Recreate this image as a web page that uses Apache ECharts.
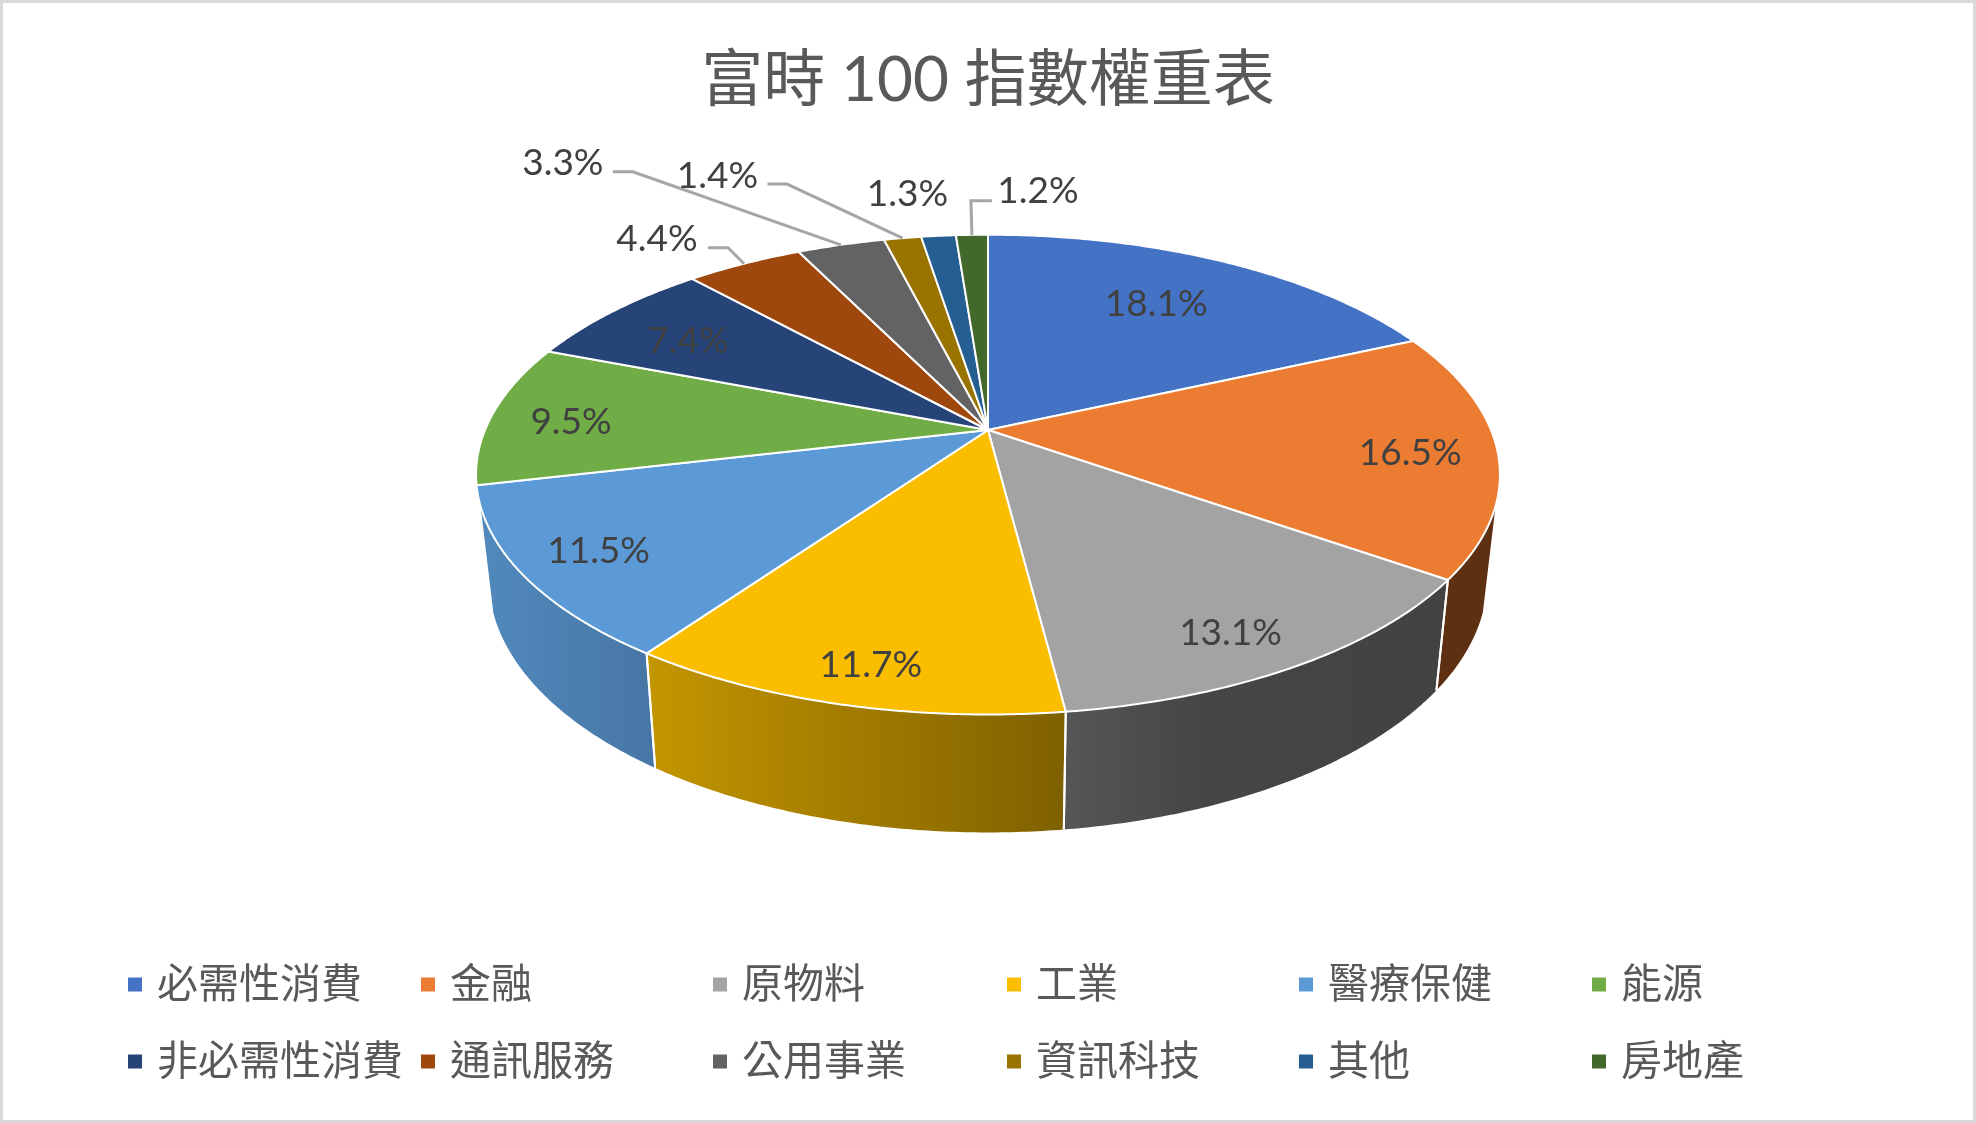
<!DOCTYPE html>
<html>
<head>
<meta charset="utf-8">
<script src="https://cdn.jsdelivr.net/npm/echarts@6/dist/echarts.min.js"></script>
<style>html,body{margin:0;padding:0;background:#fff}#c{width:1976px;height:1123px}</style>
</head>
<body>
<div id="c"></div>
<script>
const titleText = '富時 100 指數權重表';
const categories = ['必需性消費','金融','原物料','工業','醫療保健','能源','非必需性消費','通訊服務','公用事業','資訊科技','其他','房地產'];
const weights = [18.1,16.5,13.1,11.7,11.5,9.5,7.4,4.4,3.3,1.4,1.3,1.2];
const colors = ['#4472C4','#EB7C31','#A3A3A3','#FBBD00','#5B9AD6','#70AD47','#264478','#9E480E','#636363','#997300','#255E91','#43682B'];

// Perspective disc model (layout only)
const CX = 988, CY = 430, A = 503, B = 231.6, K = 0.186;
const DROP = 102, BOTTOM_A = 0.975, BOTTOM_B = 1.056;
const SIDE_FROM = 108, SIDE_TO = 251.8;
const INSIDE_R = 0.72;
const sideFill = {
  1: [['#5e2f11', 0], ['#5e2f11', 1]],
  2: [['#565656', 0], ['#464646', 0.35], ['#424242', 1]],
  3: [['#c49600', 0], ['#7f6000', 1]],
  4: [['#5189bc', 0], ['#4776a6', 1]]
};
// label layout: [radius fraction, dx, dy]; leader: elbow / end offsets from the slice's outer midpoint
const labelLayout = [
  [INSIDE_R,-8,0],[INSIDE_R,57,7],[INSIDE_R,32,42],[INSIDE_R,-17,49],[INSIDE_R,-65,20],[INSIDE_R,-59,4],[INSIDE_R,-23,-1],
  [1,-87,-25],[1,-278,-82],[1,-185,-62],[1,-31,-42],[1,66,-44]
];
const leaders = {7: [[-16,-16],[-36,-16]], 8: [[-208,-73],[-228,-73]], 9: [[-115.5,-54],[-135,-54]], 11: [[-1,-34],[20,-34]]};

const total = weights.reduce((a, b) => a + b, 0);
const starts = weights.map((_, i) => weights.slice(0, i).reduce((a, b) => a + b, 0) / total * 360);

function topPt(theta, r) {
  const t = theta * Math.PI / 180, u = r * Math.sin(t), v = -r * Math.cos(t), d = 1 - K * v;
  return [CX + A * u / d, CY + B * v / d];
}
function bottomPt(theta) {
  const t = theta * Math.PI / 180, u = Math.sin(t), v = -Math.cos(t), d = 1 - K * v;
  return [CX + BOTTOM_A * A * u / d, CY + DROP + BOTTOM_B * B * v / d];
}
function arc(fn, a, b) {
  const n = Math.max(2, Math.ceil(Math.abs(b - a) / 0.5)), pts = [];
  for (let i = 0; i <= n; i++) pts.push(fn(a + (b - a) * i / n));
  return pts;
}
const FONT = '"Lato","Noto Sans CJK TC",sans-serif';

function makeRender(i) {
  return function (params, api) {
    const frac = api.value(0) / total * 360;
    const t0 = starts[i], t1 = t0 + frac, mid = (t0 + t1) / 2;
    const children = [];
    const s0 = Math.max(t0, SIDE_FROM), s1 = Math.min(t1, SIDE_TO);
    if (s1 > s0) {
      const poly = arc(bottomPt, s1, s0);
      const fill = sideFill[i];
      children.push({
        type: 'polygon',
        shape: { points: arc(t => topPt(t, 1), s0, s1).concat(poly) },
        style: {
          fill: new echarts.graphic.LinearGradient(0, 0, 1, 0, fill.map(c => ({ color: c[0], offset: c[1] }))),
          stroke: null
        }
      });
      [t0, t1].forEach(t => {
        if (t >= SIDE_FROM && t <= SIDE_TO) {
          const a = topPt(t, 1), b = bottomPt(t);
          children.push({ type: 'line', z2: 5, shape: { x1: a[0], y1: a[1], x2: b[0], y2: b[1] }, style: { stroke: '#fff', lineWidth: 2 } });
        }
      });
    }
    children.push({
      type: 'polygon',
      z2: 10,
      shape: { points: [[CX, CY]].concat(arc(t => topPt(t, 1), t0, t1)) },
      style: { fill: colors[i], stroke: '#fff', lineWidth: 2, lineJoin: 'round' }
    });
    const edge = topPt(mid, 1);
    if (leaders[i]) {
      const l = leaders[i];
      children.push({
        type: 'polyline',
        z2: 50,
        shape: { points: [edge, [edge[0] + l[0][0], edge[1] + l[0][1]], [edge[0] + l[1][0], edge[1] + l[1][1]]] },
        style: { stroke: '#a6a6a6', lineWidth: 3, fill: null }
      });
    }
    const ll = labelLayout[i], anchor = topPt(mid, ll[0]);
    children.push({
      type: 'text',
      z2: 100,
      style: {
        text: api.value(0).toFixed(1) + '%',
        x: anchor[0] + ll[1], y: anchor[1] + ll[2],
        align: 'center', verticalAlign: 'middle',
        fontFamily: FONT, fontSize: 37, fill: '#404040'
      }
    });
    return { type: 'group', children };
  };
}

const legendCols = [128, 421, 713, 1007, 1299, 1592];
const legends = legendCols.map((x, c) => ({
  orient: 'vertical', left: x, top: 964,
  padding: 0, itemGap: 36, itemWidth: 14, itemHeight: 14, icon: 'rect',
  selectedMode: false,
  data: [categories[c], categories[c + 6]],
  textStyle: { fontFamily: FONT, fontSize: 41, color: '#595959', padding: [0, 0, 0, 10] }
}));

const chart = echarts.init(document.getElementById('c'), null, { renderer: 'canvas' });
chart.setOption({
  animation: false,
  backgroundColor: '#fff',
  color: colors,
  title: {
    text: titleText, left: 'center', top: 45,
    textStyle: { fontFamily: FONT, fontSize: 62, fontWeight: 'normal', color: '#595959' }
  },
  legend: legends,
  graphic: [{
    type: 'rect', silent: true, z: -1,
    shape: { x: 1.5, y: 1.5, width: 1973, height: 1120 },
    style: { fill: null, stroke: '#d9d9d9', lineWidth: 3 }
  }],
  series: categories.map((name, i) => ({
    type: 'custom', name, coordinateSystem: 'none', silent: true,
    data: [[weights[i]]],
    encode: { value: 0 },
    renderItem: makeRender(i)
  }))
});
</script>
</body>
</html>
